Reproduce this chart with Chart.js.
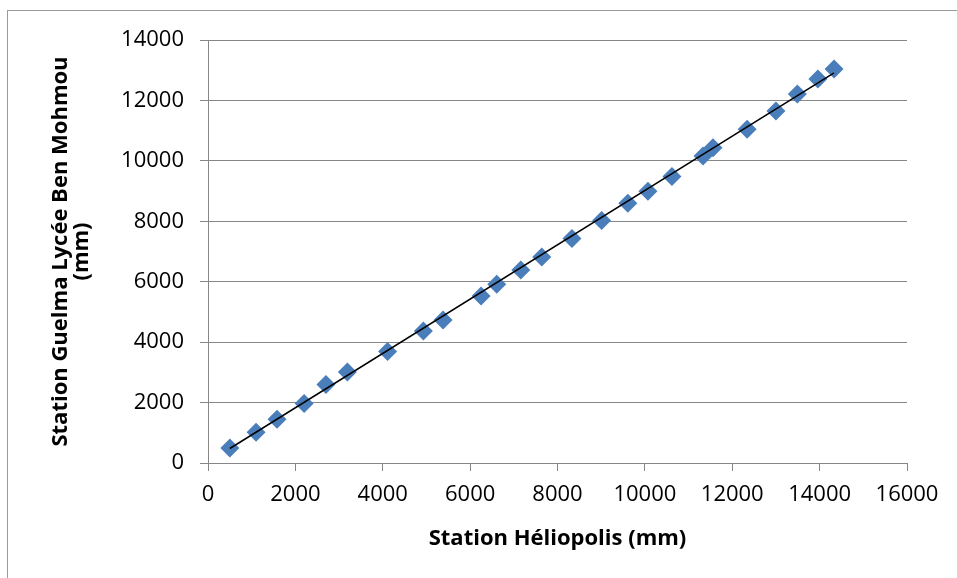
<!DOCTYPE html>
<html>
<head>
<meta charset="utf-8">
<script src="https://cdn.jsdelivr.net/npm/chart.js@4.4.1/dist/chart.umd.min.js"></script>
<style>
  html, body { margin: 0; padding: 0; background: #fff; }
  #wrap { position: relative; width: 957px; height: 578px; }
  #cadre { position: absolute; left: 7px; top: 10px; width: 960px; height: 580px; border: 1px solid #9a9a9a; pointer-events: none; }
</style>
</head>
<body>
<div id="wrap">
  <canvas id="graphe" width="957" height="578"></canvas>
  <div id="cadre"></div>
</div>
<script>
// pluie cumulée (mm) : Héliopolis en x, Guelma Lycée Ben Mohmou en y
const heliopolis = [500, 1100, 1580, 2200, 2700, 3190, 4110, 4930, 5380, 6250, 6610, 7160, 7640,
    8330, 9010, 9610, 10070, 10620, 11330, 11560, 12340, 13000, 13490, 13960, 14330];
const guelma = [500, 1020, 1450, 1970, 2600, 3010, 3690, 4370, 4730, 5530, 5920, 6390, 6820,
    7430, 8030, 8600, 8990, 9480, 10160, 10430, 11050, 11650, 12210, 12710, 13040];

// droite de tendance (extrémités)
const tendanceX = [500, 14330];
const tendanceY = [480, 12910];

const xTitre = 'Station Héliopolis (mm)';
const yTitre = ['Station Guelma Lycée Ben Mohmou', '(mm)'];

const points = heliopolis.map((v, i) => ({x: v, y: guelma[i]}));
const tendance = tendanceX.map((v, i) => ({x: v, y: tendanceY[i]}));

const police = "'Open Sans', sans-serif";
const gris = '#878787';

new Chart(document.getElementById('graphe'), {
    type: 'scatter',
    data: {
        datasets: [{
            data: tendance,
            showLine: true,
            borderColor: '#000',
            borderWidth: 1.5,
            pointRadius: 0,
        }, {
            data: points,
            pointStyle: 'rectRot',
            pointRadius: 9.5,
            backgroundColor: '#4a7ebb',
            borderColor: '#4a7ebb',
            borderWidth: 0,
        }]
    },
    options: {
        responsive: false,
        animation: false,
        layout: {
            padding: {left: 0, right: 50, top: 40, bottom: 0}
        },
        plugins: {
            legend: { display: false },
            tooltip: { enabled: false }
        },
        scales: {
            x: {
                type: 'linear',
                min: 0,
                max: 16000,
                ticks: {
                    stepSize: 2000,
                    color: '#000',
                    padding: 11,
                    maxRotation: 0,
                    font: { family: police, size: 22 },
                    callback: v => String(v)
                },
                grid: {
                    drawOnChartArea: false,
                    drawTicks: true,
                    tickLength: 8,
                    color: gris,
                },
                border: { color: gris, width: 1 },
                title: {
                    display: true,
                    text: xTitre,
                    color: '#000',
                    font: { family: police, size: 22, weight: 'bold', lineHeight: '24px' },
                    padding: { top: 0, bottom: 27 }
                },
                afterFit: function (scale) { scale.height = 115; }
            },
            y: {
                type: 'linear',
                min: 0,
                max: 14000,
                ticks: {
                    stepSize: 2000,
                    color: '#000',
                    padding: 16,
                    font: { family: police, size: 22 },
                    callback: v => String(v)
                },
                grid: {
                    drawTicks: true,
                    tickLength: 8,
                    color: gris,
                },
                border: { color: gris, width: 1 },
                title: {
                    display: true,
                    text: yTitre,
                    color: '#000',
                    font: { family: police, size: 22, weight: 'bold', lineHeight: '21px' },
                    padding: { top: 50, bottom: 0 }
                },
                afterFit: function (scale) { scale.width = 208; }
            }
        }
    }
});
</script>
</body>
</html>
